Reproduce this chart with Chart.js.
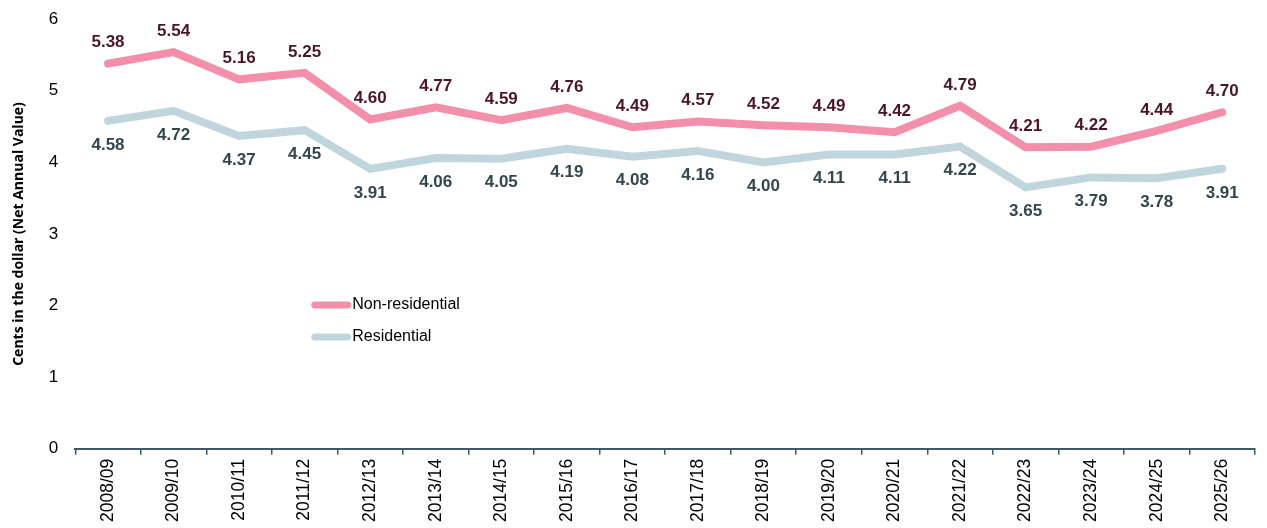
<!DOCTYPE html>
<html>
<head>
<meta charset="utf-8">
<script src="https://cdn.jsdelivr.net/npm/chart.js@4/dist/chart.umd.min.js"></script>
<style>
html,body{margin:0;padding:0;background:#fff;}
#wrap{width:1267px;height:528px;position:relative;}
</style>
</head>
<body>
<div id="wrap"><canvas id="c" width="1267" height="528"></canvas></div>
<script>
const categories = ["2008/09","2009/10","2010/11","2011/12","2012/13","2013/14","2014/15","2015/16","2016/17","2017/18","2018/19","2019/20","2020/21","2021/22","2022/23","2023/24","2024/25","2025/26"];
const nonResidential = [5.38,5.54,5.16,5.25,4.60,4.77,4.59,4.76,4.49,4.57,4.52,4.49,4.42,4.79,4.21,4.22,4.44,4.70];
const residential = [4.58,4.72,4.37,4.45,3.91,4.06,4.05,4.19,4.08,4.16,4.00,4.11,4.11,4.22,3.65,3.79,3.78,3.91];
const yTicks = [0,1,2,3,4,5,6];
const seriesNames = ["Non-residential","Residential"];

const PINK = '#f48fab', GREY = '#c0d6dc';
const labelColors = ['#4b1528', '#34464d'];
const labelOffsets = [-21, 24];

const dataLabelPlugin = {
  id: 'dataLabels',
  afterDatasetsDraw(chart) {
    const ctx = chart.ctx;
    ctx.save();
    ctx.font = 'bold 17px "Liberation Sans", Arial, sans-serif';
    ctx.textAlign = 'center';
    ctx.textBaseline = 'middle';
    chart.data.datasets.forEach((ds, i) => {
      const meta = chart.getDatasetMeta(i);
      ctx.fillStyle = labelColors[i];
      meta.data.forEach((pt, j) => {
        ctx.fillText(ds.data[j].toFixed(2), pt.x, pt.y + labelOffsets[i]);
      });
    });
    ctx.restore();
  }
};

const legendPlugin = {
  id: 'customLegend',
  afterDraw(chart) {
    const ctx = chart.ctx;
    const x0 = chart.chartArea.left + 236;
    const ys = [305, 337];
    ctx.save();
    ctx.font = '16px "Liberation Sans", Arial, sans-serif';
    ctx.textBaseline = 'middle';
    ctx.textAlign = 'left';
    chart.data.datasets.forEach((ds, i) => {
      ctx.strokeStyle = ds.borderColor;
      ctx.lineWidth = 7;
      ctx.lineCap = 'round';
      ctx.beginPath();
      ctx.moveTo(x0 + 3.5, ys[i]);
      ctx.lineTo(x0 + 36.5, ys[i]);
      ctx.stroke();
      ctx.fillStyle = '#000';
      ctx.fillText(ds.label, x0 + 41, ys[i]);
    });
    ctx.restore();
  }
};

new Chart(document.getElementById('c'), {
  type: 'line',
  data: {
    labels: categories,
    datasets: [
      {label: seriesNames[0], data: nonResidential, borderColor: PINK, backgroundColor: PINK, borderWidth: 8, pointRadius: 0, tension: 0, borderCapStyle: 'round', borderJoinStyle: 'miter'},
      {label: seriesNames[1], data: residential, borderColor: GREY, backgroundColor: GREY, borderWidth: 8, pointRadius: 0, tension: 0, borderCapStyle: 'round', borderJoinStyle: 'miter'}
    ]
  },
  options: {
    responsive: false,
    animation: false,
    layout: {padding: {top: 10, right: 12, left: 11, bottom: 2}},
    plugins: {legend: {display: false}, tooltip: {enabled: false}},
    scales: {
      x: {
        offset: true,
        grid: {display: true, drawOnChartArea: false, offset: true, tickLength: 6, color: '#3f5a63', lineWidth: 1.5},
        border: {display: true, color: '#3f5a63', width: 2},
        ticks: {maxRotation: 90, minRotation: 90, color: '#000', font: {family: '"Liberation Sans", Arial, sans-serif', size: 17.5}, padding: 4}
      },
      y: {
        min: 0, max: 6,
        afterBuildTicks(axis) { axis.ticks = yTicks.map(v => ({value: v})); },
        grid: {display: false},
        border: {display: false},
        ticks: {color: '#000', font: {family: '"Liberation Sans", Arial, sans-serif', size: 17}, padding: 9},
        title: {display: true, text: 'Cents in the dollar (Net Annual Value)', color: '#000', font: {family: '"Open Sans", "Liberation Sans", sans-serif', size: 14, weight: 'bold'}, padding: {top: 0, bottom: 12}}
      }
    }
  },
  plugins: [dataLabelPlugin, legendPlugin]
});
</script>
</body>
</html>
